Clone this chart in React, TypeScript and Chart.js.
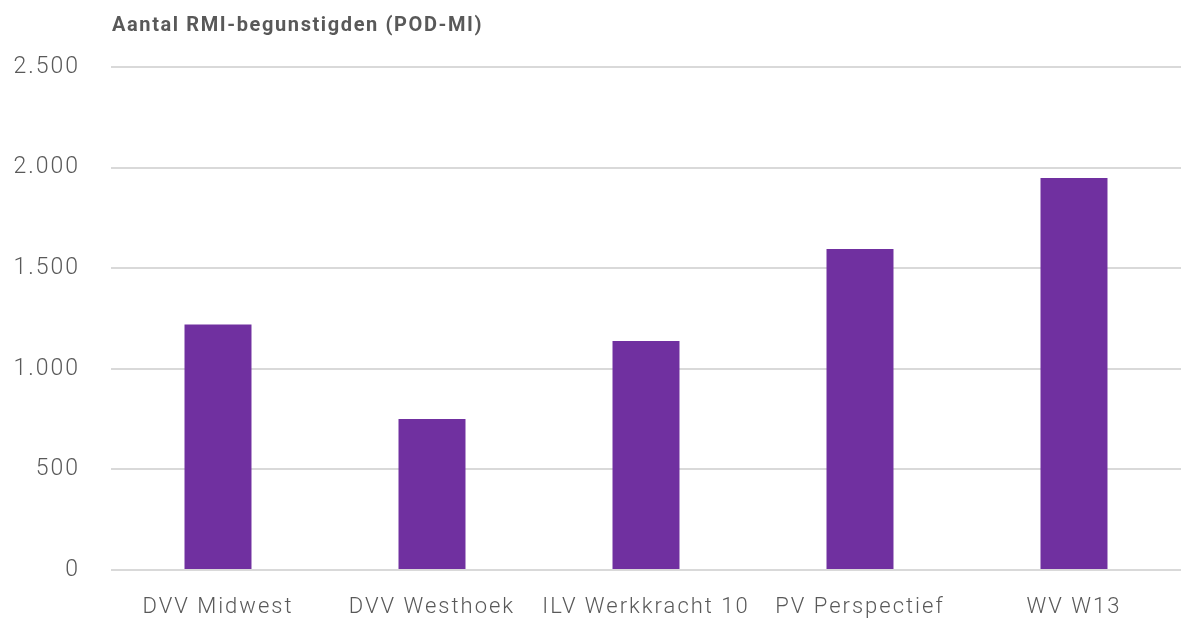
import React, { useEffect, useRef } from "react";
import { Chart, registerables } from "chart.js";

Chart.register(...registerables);

const categories = ["DVV Midwest", "DVV Westhoek", "ILV Werkkracht 10", "PV Perspectief", "WV W13"];
const values = [1220, 750, 1138, 1595, 1948];
const yTicks = [0, 500, 1000, 1500, 2000, 2500];
const titleText = "Aantal RMI-begunstigden (POD-MI)";

const spacingPlugin = {
  id: "letterSpacing",
  beforeDraw(chart: any) {
    (chart.ctx as any).letterSpacing = "2px";
  },
  afterDraw(chart: any) {
    const ctx = chart.ctx as any;
    ctx.save();
    ctx.letterSpacing = "1.6px";
    ctx.font = "bold 20px Roboto";
    ctx.fillStyle = "#595959";
    ctx.textBaseline = "alphabetic";
    ctx.textAlign = "left";
    ctx.fillText(titleText, chart.chartArea.left + 1, 31);
    ctx.restore();
    ctx.letterSpacing = "0px";
  },
};

export default function App() {
  const ref = useRef<HTMLCanvasElement | null>(null);
  useEffect(() => {
    document.body.style.margin = "0";
    const chart = new Chart(ref.current as HTMLCanvasElement, {
      type: "bar",
      data: {
        labels: categories,
        datasets: [
          {
            data: values,
            backgroundColor: "#7030A0",
            categoryPercentage: 1,
            barPercentage: 0.313,
          },
        ],
      },
      plugins: [spacingPlugin],
      options: {
        animation: false,
        responsive: false,
        maintainAspectRatio: false,
        layout: { padding: { top: 67, right: -2, left: 0, bottom: 0 } },
        plugins: { legend: { display: false }, tooltip: { enabled: false }, title: { display: false } },
        scales: {
          x: {
            grid: { display: false, drawTicks: false },
            border: { display: false },
            ticks: {
              color: "#595959",
              font: { family: "Roboto", size: 22, weight: 300 },
              padding: 24,
              maxRotation: 0,
              autoSkip: false,
            },
            afterFit(scale: any) {
              scale.height = 50;
            },
          },
          y: {
            min: 0,
            max: 2500,
            afterBuildTicks(scale: any) {
              scale.ticks = yTicks.map((v) => ({ value: v }));
            },
            grid: { color: "#d9d9d9", lineWidth: 2, drawTicks: false },
            border: { display: false },
            ticks: {
              color: "#595959",
              font: { family: "Roboto", size: 23, weight: 300 },
              padding: 31,
              callback: (v: any) => Number(v).toLocaleString("de-DE"),
            },
            afterFit(scale: any) {
              scale.width = 111;
            },
          },
        },
      },
    });
    return () => chart.destroy();
  }, []);
  return (
    <div style={{ width: 1181, height: 620 }}>
      <canvas ref={ref} width={1181} height={620} style={{ display: "block" }} />
    </div>
  );
}
